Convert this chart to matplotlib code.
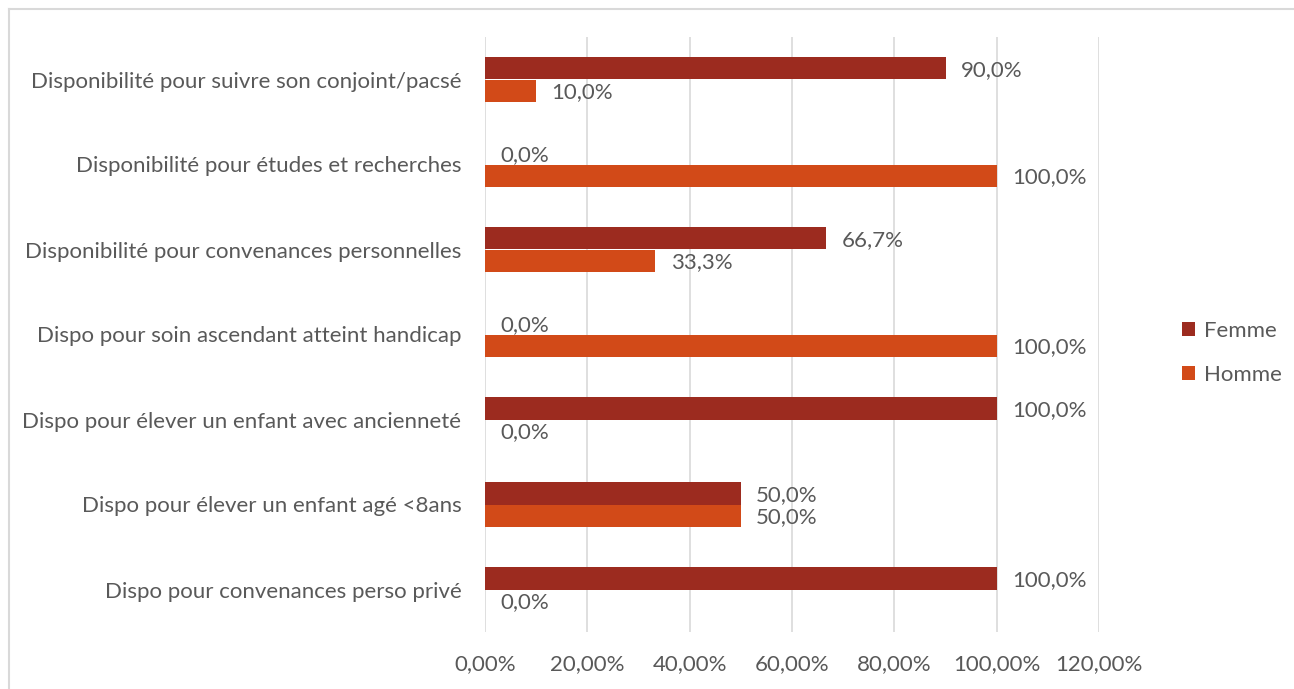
import matplotlib
matplotlib.use("Agg")
import matplotlib.pyplot as plt
from matplotlib.lines import Line2D
import numpy as np

categories = [
    "Disponibilité pour suivre son conjoint/pacsé",
    "Disponibilité pour études et recherches",
    "Disponibilité pour convenances personnelles",
    "Dispo pour soin ascendant atteint handicap",
    "Dispo pour élever un enfant avec ancienneté",
    "Dispo pour élever un enfant agé <8ans",
    "Dispo pour convenances perso privé",
]
femme = [0.90, 0.0, 0.667, 0.0, 1.0, 0.50, 1.0]
homme = [0.10, 1.0, 0.333, 1.0, 0.0, 0.50, 0.0]
xticks = [0, 0.2, 0.4, 0.6, 0.8, 1.0, 1.2]
xticklabels = ["0,00%", "20,00%", "40,00%", "60,00%", "80,00%", "100,00%", "120,00%"]

c_f = "#9C2B1F"
c_h = "#D24A18"
txt = "#595959"
font = "Lato"
fs = 16
plt.rcParams['font.family'] = [font, 'DejaVu Sans']

W, H = 1294, 689
fig = plt.figure(figsize=(W/100, H/100), dpi=100)
ax = fig.add_axes([485/W, 1 - 632/H, (1099-485)/W, (632-37)/H])

y = np.arange(len(categories))
h = 0.26
ax.barh(y - h/2, femme, height=h, color=c_f, label="Femme", zorder=3)
ax.barh(y + h/2, homme, height=h, color=c_h, label="Homme", zorder=3)

def fmt(v):
    return ("%.1f%%" % (v*100)).replace(".", ",")

for i in range(len(categories)):
    ax.annotate(fmt(femme[i]), (femme[i], y[i] - h/2), xytext=(11, -1), textcoords="offset points",
                va="center", ha="left", fontsize=fs, color=txt)
    ax.annotate(fmt(homme[i]), (homme[i], y[i] + h/2), xytext=(11, -1), textcoords="offset points",
                va="center", ha="left", fontsize=fs, color=txt)

ax.set_ylim(len(categories) - 0.5, -0.5)
ax.set_xlim(0, 1.2)
ax.set_yticks(y)
ax.set_yticklabels(categories, fontsize=fs, color=txt)
ax.set_xticks(xticks)
ax.set_xticklabels(xticklabels, fontsize=fs, color=txt)
ax.tick_params(axis="y", length=0, pad=17)
ax.tick_params(axis="x", length=0, pad=16)
for s in ax.spines.values():
    s.set_visible(False)
ax.grid(axis="x", color="#D9D9D9", linewidth=1.2, zorder=0)

leg = fig.legend(loc="center left", bbox_to_anchor=(1162/W, 1 - 353/H), frameon=False,
                 fontsize=fs, handlelength=0.6, handleheight=0.6, handletextpad=0.4,
                 labelspacing=1.1)
for t in leg.get_texts():
    t.set_color(txt)

# chart border
fig.add_artist(Line2D([8.5/W, 8.5/W], [0, 1 - 9/H], transform=fig.transFigure, color="#D9D9D9", lw=1.5))
fig.add_artist(Line2D([8.5/W, 1], [1 - 9/H, 1 - 9/H], transform=fig.transFigure, color="#D9D9D9", lw=1.5))

fig.savefig("out.png", dpi=100)
